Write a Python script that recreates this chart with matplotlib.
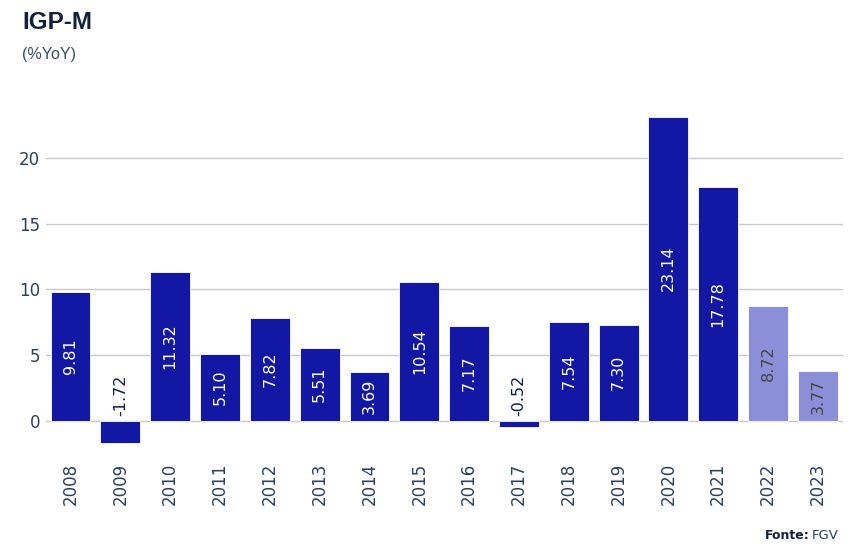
import matplotlib.pyplot as plt

years = ['2008', '2009', '2010', '2011', '2012', '2013', '2014', '2015',
         '2016', '2017', '2018', '2019', '2020', '2021', '2022', '2023']
values = [9.81, -1.72, 11.32, 5.10, 7.82, 5.51, 3.69, 10.54,
          7.17, -0.52, 7.54, 7.30, 23.14, 17.78, 8.72, 3.77]
projected = ['2022', '2023']

dark = '#1218a4'
light = '#8b8fd8'
text_col = '#2a3f5f'

plt.rcParams['font.family'] = ['Liberation Sans', 'DejaVu Sans']

fig = plt.figure(figsize=(8.6, 5.56), dpi=100)
ax = fig.add_axes([0.053, 0.175, 0.927, 0.645])

x = list(range(len(years)))
colors = [light if y in projected else dark for y in years]
ax.bar(x, values, width=0.8, color=colors, edgecolor='white', linewidth=0.6, zorder=3)

for i, v in enumerate(values):
    lab = '{:.2f}'.format(v)
    if v < 0:
        ax.text(i, 0.35, lab, rotation=90, ha='center', va='bottom',
                fontsize=11.5, color='#0b1a5c', family='DejaVu Sans', zorder=4)
    else:
        c = '#444444' if years[i] in projected else 'white'
        ax.text(i, v / 2, lab, rotation=90, ha='center', va='center',
                fontsize=11.5, color=c, family='DejaVu Sans', zorder=4)

ax.set_xlim(-0.5, len(years) - 0.5)
ax.set_ylim(-2.9, 24.4)
ax.set_yticks([0, 5, 10, 15, 20])
ax.set_xticks(x)
ax.set_xticklabels(years, rotation=90)
ax.tick_params(axis='both', length=0, labelsize=12, labelcolor=text_col, pad=4)
ax.tick_params(axis='x', pad=3)
for t in ax.get_xticklabels() + ax.get_yticklabels():
    t.set_family('DejaVu Sans')
ax.grid(axis='y', color='#c8c8c8', linewidth=1, zorder=0)
for s in ax.spines.values():
    s.set_visible(False)

fig.text(0.026, 0.948, 'IGP-M', fontsize=17.5, fontweight='bold', color='#14213d')
fig.text(0.026, 0.893, '(%YoY)', fontsize=11.5, color='#3a4a6a')

fig.text(0.975, 0.03, 'FGV', fontsize=9.5, color=text_col, ha='right', family='DejaVu Sans')
fig.text(0.941, 0.03, 'Fonte:', fontsize=9, color='#14213d', ha='right',
         fontweight='bold', family='DejaVu Sans')

fig.savefig('out.png', dpi=100)
